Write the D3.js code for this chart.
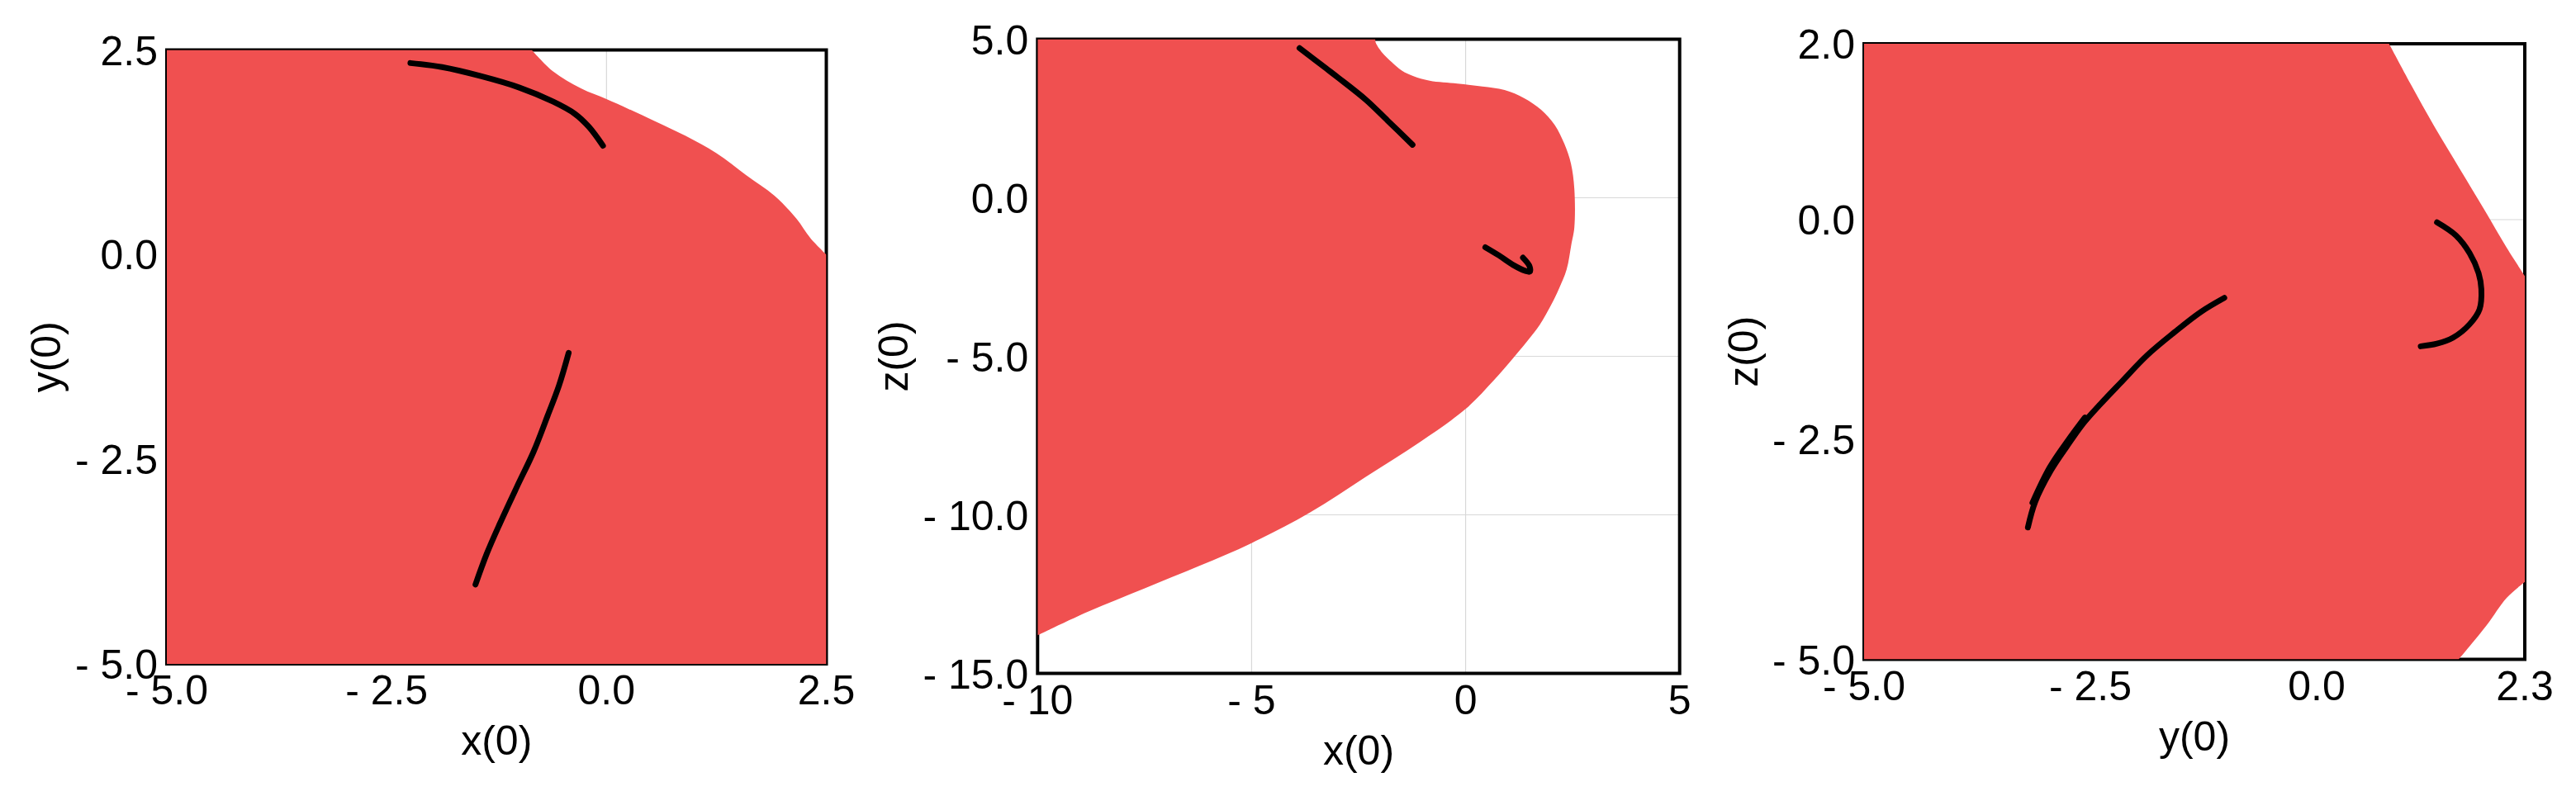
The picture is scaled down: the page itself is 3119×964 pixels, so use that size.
<!DOCTYPE html>
<html>
<head>
<meta charset="utf-8">
<script src="https://cdn.jsdelivr.net/npm/d3@7"></script>
<style>
  body { margin: 0; background: #fff; }
  text { font-family: "Liberation Sans", Arial, sans-serif; fill: #000; }
</style>
</head>
<body>
<svg width="3119" height="964"></svg>
<script>
// ---- panel 1 : x(0) / y(0) ----
const xyEdge = [[-0.85, 2.5], [-0.61, 2.24], [-0.29, 2.03], [0.0, 1.9], [0.25, 1.78], [0.55, 1.63],
    [0.9, 1.45], [1.25, 1.24], [1.59, 0.97], [1.91, 0.72], [2.16, 0.44], [2.32, 0.2], [2.5, 0.0]];
const xyTrackA = [[-2.23, 2.34], [-1.87, 2.29], [-1.43, 2.18], [-0.99, 2.04], [-0.61, 1.87],
    [-0.36, 1.72], [-0.2, 1.56], [-0.04, 1.33]];
const xyTrackB = [[-0.43, -1.2], [-0.54, -1.6], [-0.67, -1.97], [-0.83, -2.41], [-1.02, -2.84],
    [-1.21, -3.28], [-1.36, -3.65], [-1.49, -4.03]];
const xyXTicks = [-5, -2.5, 0, 2.5];
const xyYTicks = [-5, -2.5, 0, 2.5];

// ---- panel 2 : x(0) / z(0) ----
const xzEdge = [[-2.11, 5.0], [-2.1, 4.89], [-1.95, 4.58], [-1.72, 4.27], [-1.49, 4.01], [-1.23, 3.84],
    [-0.84, 3.69], [-0.19, 3.6], [0.39, 3.51], [0.91, 3.4], [1.37, 3.14], [1.76, 2.78], [2.08, 2.3],
    [2.31, 1.69], [2.46, 1.08], [2.54, 0.28], [2.54, -0.94], [2.47, -1.47], [2.36, -2.26], [2.18, -2.87],
    [1.99, -3.4], [1.73, -4.01], [1.43, -4.54], [1.11, -5.06], [0.65, -5.77], [0.01, -6.65],
    [-1.05, -7.69], [-2.34, -8.81], [-3.64, -9.93], [-5.0, -10.89], [-6.22, -11.61], [-7.52, -12.33],
    [-8.81, -13.05], [-10, -13.8]];
const xzTrackA = [[-3.88, 4.72], [-3.26, 4.08], [-2.98, 3.79], [-2.33, 3.09], [-1.82, 2.43], [-1.24, 1.67]];
const xzTrackB = [[0.46, -1.56], [0.78, -1.82], [1.11, -2.12], [1.4, -2.31], [1.5, -2.33], [1.49, -2.15],
    [1.34, -1.89]];
const xzXTicks = [-10, -5, 0, 5];
const xzZTicks = [-15, -10, -5, 0, 5];

// ---- panel 3 : y(0) / z(0) ----
const yzEdgeTop = [[0.8, 2.0], [1.04, 1.54], [1.3, 1.06], [1.58, 0.58], [1.86, 0.1], [2.1, -0.32], [2.3, -0.64]];
const yzEdgeBottom = [[2.3, -4.12], [2.1, -4.3], [1.88, -4.61], [1.57, -5.0]];
const yzTrackA = [[1.33, -0.03], [1.54, -0.18], [1.69, -0.38], [1.79, -0.61], [1.82, -0.79], [1.8, -1.02],
    [1.69, -1.19], [1.51, -1.34], [1.33, -1.41], [1.15, -1.44]];
const yzTrackB = [[-1.02, -0.89], [-1.28, -1.05], [-1.57, -1.28], [-1.87, -1.54], [-2.17, -1.86],
    [-2.4, -2.11], [-2.58, -2.32], [-2.76, -2.58], [-2.94, -2.86], [-3.11, -3.21], [-3.19, -3.5]];
const yzTrackC = [[-2.56, -2.25], [-2.74, -2.5], [-2.95, -2.82], [-3.14, -3.22]];
const yzYTicks = [-5, -2.5, 0, 2.3];
const yzZTicks = [-5, -2.5, 0, 2];

const svg = d3.select('svg');
const fillColor = '#f05050';
const fontSize = 50;

const fmt = digits => v => (v < 0 ? '- ' : '') + Math.abs(v).toFixed(digits);

function drawPanel(p) {
    const x = d3.scaleLinear().domain(p.xDomain).range([p.box.l, p.box.r]);
    const y = d3.scaleLinear().domain(p.yDomain).range([p.box.b, p.box.t]);
    const g = svg.append('g');
    const w = p.box.r - p.box.l, h = p.box.b - p.box.t;

    g.append('clipPath').attr('id', 'clip' + p.id)
        .append('rect').attr('x', p.box.l).attr('y', p.box.t).attr('width', w).attr('height', h);

    // light grid at inner ticks
    g.selectAll('.gx').data(p.xTicks.filter(v => v > p.xDomain[0] && v < p.xDomain[1]))
        .enter().append('line')
        .attr('x1', d => x(d)).attr('x2', d => x(d))
        .attr('y1', p.box.t).attr('y2', p.box.b)
        .attr('stroke', '#d8d8d8').attr('stroke-width', 1.2);
    g.selectAll('.gy').data(p.yTicks.filter(v => v > p.yDomain[0] && v < p.yDomain[1]))
        .enter().append('line')
        .attr('y1', d => y(d)).attr('y2', d => y(d))
        .attr('x1', p.box.l).attr('x2', p.box.r)
        .attr('stroke', '#d8d8d8').attr('stroke-width', 1.2);

    // frame
    g.append('rect')
        .attr('x', p.box.l).attr('y', p.box.t).attr('width', w).attr('height', h)
        .attr('fill', 'none').attr('stroke', '#000').attr('stroke-width', 4);

    // region outline: smooth pieces for the boundary, straight pieces along the frame
    const smooth = d3.line().x(d => x(d[0])).y(d => y(d[1])).curve(d3.curveCatmullRom);
    const straight = d3.line().x(d => x(d[0])).y(d => y(d[1]));
    const d = p.region.map((seg, i) => {
        const s = (seg.smooth ? smooth : straight)(seg.pts);
        return i === 0 ? s : 'L' + s.slice(1);
    }).join('') + 'Z';

    g.append('path')
        .attr('d', d)
        .attr('fill', fillColor)
        .attr('clip-path', `url(#clip${p.id})`);

    g.selectAll('.track').data(p.tracks).enter().append('path')
        .attr('d', smooth)
        .attr('fill', 'none')
        .attr('stroke', '#000')
        .attr('stroke-width', 7)
        .attr('stroke-linecap', 'round')
        .attr('stroke-linejoin', 'round')
        .attr('clip-path', `url(#clip${p.id})`);

    // tick labels
    g.selectAll('.xl').data(p.xTicks).enter().append('text')
        .attr('x', v => x(v)).attr('y', p.box.b + 49)
        .attr('text-anchor', 'middle')
        .style('font-size', fontSize + 'px')
        .text(p.xFmt);
    const yl = g.selectAll('.yl').data(p.yTicks).enter().append('text')
        .attr('x', p.box.l - 11).attr('y', v => y(v) + 18)
        .attr('text-anchor', 'end')
        .style('font-size', fontSize + 'px')
        .text(p.yFmt);

    const maxW = d3.max(yl.nodes(), n => n.getComputedTextLength());

    g.append('text')
        .attr('x', (p.box.l + p.box.r) / 2).attr('y', p.box.b + 110)
        .attr('text-anchor', 'middle')
        .style('font-size', fontSize + 'px')
        .text(p.xTitle);
    const cx = p.box.l - 11 - maxW - 31;
    g.append('text')
        .attr('transform', `translate(${cx + 13},${(p.box.t + p.box.b) / 2}) rotate(-90)`)
        .attr('text-anchor', 'middle')
        .style('font-size', fontSize + 'px')
        .text(p.yTitle);
}

drawPanel({
    id: 1,
    box: {l: 202, r: 1000.5, t: 60.5, b: 804},
    xDomain: [-5, 2.5], yDomain: [-5, 2.5],
    xTicks: xyXTicks, yTicks: xyYTicks,
    xFmt: fmt(1), yFmt: fmt(1),
    region: [{pts: [[-5, 2.5], xyEdge[0]]}, {pts: xyEdge, smooth: true}, {pts: [[2.5, 0], [2.5, -5], [-5, -5]]}],
    tracks: [xyTrackA, xyTrackB],
    xTitle: 'x(0)', yTitle: 'y(0)'
});

drawPanel({
    id: 2,
    box: {l: 1256.3, r: 2033.7, t: 47.5, b: 815.5},
    xDomain: [-10, 5], yDomain: [-15, 5],
    xTicks: xzXTicks, yTicks: xzZTicks,
    xFmt: fmt(0), yFmt: fmt(1),
    region: [{pts: [[-10, 5], xzEdge[0]]}, {pts: xzEdge, smooth: true}],
    tracks: [xzTrackA, xzTrackB],
    xTitle: 'x(0)', yTitle: 'z(0)'
});

drawPanel({
    id: 3,
    box: {l: 2257, r: 3057, t: 53, b: 798.5},
    xDomain: [-5, 2.3], yDomain: [-5, 2],
    xTicks: yzYTicks, yTicks: yzZTicks,
    xFmt: fmt(1), yFmt: fmt(1),
    region: [{pts: [[-5, 2], yzEdgeTop[0]]}, {pts: yzEdgeTop, smooth: true},
        {pts: yzEdgeBottom, smooth: true}, {pts: [[1.57, -5], [-5, -5]]}],
    tracks: [yzTrackA, yzTrackB, yzTrackC],
    xTitle: 'y(0)', yTitle: 'z(0)'
});
</script>
</body>
</html>
